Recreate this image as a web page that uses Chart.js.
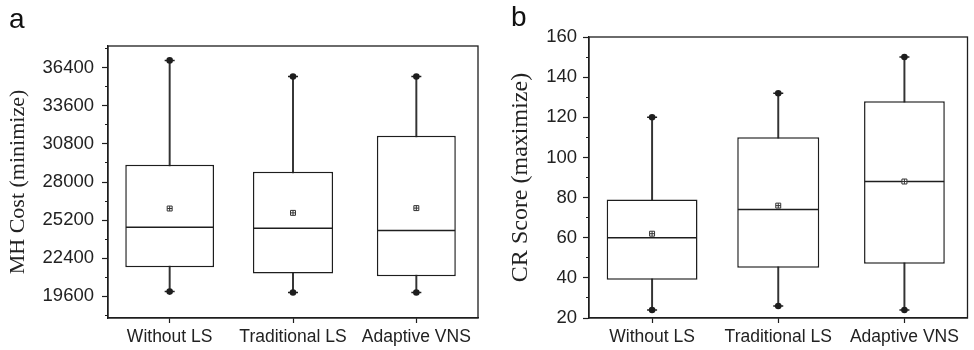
<!DOCTYPE html>
<html>
<head>
<meta charset="utf-8">
<script src="https://cdn.jsdelivr.net/npm/chart.js@4.4.0/dist/chart.umd.min.js"></script>
<style>
  body { margin: 0; background: #fff; }
  #wrap { position: relative; width: 974px; height: 350px; }
  .panel { position: absolute; top: 0; width: 487px; height: 350px; }
  .tag { position: absolute; font: 28px "Liberation Sans", Arial, sans-serif; line-height: 28px; color: #111; }
</style>
</head>
<body>
<div id="wrap">
  <div class="panel" style="left:0"><canvas id="chartA" width="487" height="350"></canvas></div>
  <div class="panel" style="left:487px"><canvas id="chartB" width="487" height="350"></canvas></div>
  <div class="tag" style="left:9px;top:5px">a</div>
  <div class="tag" style="left:511px;top:3px">b</div>
</div>
<script>
var categories = ['Without LS', 'Traditional LS', 'Adaptive VNS'];

// a: MH cost (minimize)
var mhMin    = [19940, 19870, 19870];
var mhQ1     = [21730, 21270, 21070];
var mhMedian = [24680, 24600, 24430];
var mhQ3     = [29260, 28750, 31400];
var mhMax    = [36940, 35760, 35760];
var mhMean   = [26050, 25730, 26080];
var mhTicks  = [19600, 22400, 25200, 28000, 30800, 33600, 36400];

// b: CR score (maximize)
var crMin    = [24, 26, 24];
var crQ1     = [39, 45, 47];
var crMedian = [60, 74, 88];
var crQ3     = [79, 110, 128];
var crMax    = [120, 132, 150];
var crMean   = [62, 76, 88];
var crTicks  = [20, 40, 60, 80, 100, 120, 140, 160];

// box width as share of the category slot
var boxWidths = [0.72, 0.65, 0.64];

var ink = '#1e1e1e';
var sans = '"Liberation Sans", Arial, sans-serif';
var serif = '"Liberation Serif", "Times New Roman", serif';

function halfBox(ctx) {
    var x = ctx.chart.scales.x;
    return x.width / categories.length * boxWidths[ctx.dataIndex] / 2 - 0.7;
}

function boxDatasets(mn, q1, med, q3, mx, mean) {
    var sets = [];
    sets.push({
        type: 'bar',
        data: categories.map(function (c, i) { return [mn[i], mx[i]]; }),
        backgroundColor: '#333',
        barThickness: 1.3,
        grouped: false,
        order: 3
    });
    categories.forEach(function (c, i) {
        sets.push({
            type: 'bar',
            data: categories.map(function (c2, j) { return j === i ? [q1[j], q3[j]] : null; }),
            backgroundColor: '#fff',
            borderColor: ink,
            borderWidth: 1.5,
            borderSkipped: false,
            barPercentage: boxWidths[i],
            categoryPercentage: 1,
            grouped: false,
            order: 2
        });
    });
    var pts = function (data, style, radius, extra) {
        var d = {
            type: 'line',
            data: data,
            showLine: false,
            pointStyle: style,
            pointRadius: radius,
            pointHoverRadius: radius,
            pointBackgroundColor: ink,
            pointBorderColor: ink,
            pointBorderWidth: 1.5,
            order: 1
        };
        return Object.assign(d, extra || {});
    };
    sets.push(pts(med, 'line', halfBox));
    sets.push(pts(mx, 'line', 5, {order: 0}));
    sets.push(pts(mn, 'line', 5, {order: 0}));
    sets.push(pts(mx, 'circle', 3.3, {pointBorderWidth: 0, order: 0}));
    sets.push(pts(mn, 'circle', 3.3, {pointBorderWidth: 0, order: 0}));
    sets.push(pts(mean, 'rect', 3.5, {pointBackgroundColor: '#fff', pointBorderColor: '#333', pointBorderWidth: 1, order: 0}));
    sets.push(pts(mean, 'cross', 2.4, {pointBorderColor: '#333', pointBorderWidth: 1, order: -1}));
    return sets;
}

var framePlugin = {
    id: 'frame',
    afterDatasetsDraw: function (chart) {
        var a = chart.chartArea, c = chart.ctx;
        c.save();
        c.strokeStyle = ink;
        c.lineWidth = 1.3;
        c.strokeRect(a.left, a.top, a.right - a.left, a.bottom - a.top);
        c.restore();
    }
};

function makeChart(id, sets, o) {
    return new Chart(id, {
        type: 'bar',
        data: { labels: categories, datasets: sets },
        plugins: [framePlugin],
        options: {
            responsive: false,
            animation: false,
            layout: { padding: o.padding },
            plugins: { legend: { display: false }, tooltip: { enabled: false } },
            scales: {
                x: {
                    grid: { drawOnChartArea: false, offset: false, tickLength: 5, tickWidth: 1.2, tickColor: ink },
                    border: { color: ink, width: 1.3 },
                    ticks: { font: { family: sans, size: 17.5 }, color: '#222', padding: 4, maxRotation: 0, autoSkip: false },
                    afterFit: function (s) { s.height = 32; }
                },
                y: {
                    min: o.min,
                    max: o.max,
                    afterBuildTicks: function (s) {
                        s.ticks = [];
                        for (var v = o.first; v <= o.max + 1e-9; v += o.minor) s.ticks.push({ value: v });
                    },
                    grid: {
                        drawOnChartArea: false,
                        tickLength: 6,
                        tickWidth: 1.2,
                        tickColor: ink,
                        tickBorderDash: function (ctx) { return o.ticks.indexOf(ctx.tick.value) >= 0 ? [] : [3, 3]; },
                        tickBorderDashOffset: function (ctx) { return o.ticks.indexOf(ctx.tick.value) >= 0 ? 0 : 3; }
                    },
                    border: { color: ink, width: 1.3 },
                    ticks: {
                        autoSkip: false,
                        font: { family: sans, size: 18.5 },
                        color: '#222',
                        padding: o.tickPad,
                        callback: function (v) { return o.ticks.indexOf(v) >= 0 ? String(v) : ''; }
                    },
                    title: {
                        display: true,
                        text: o.title,
                        color: '#222',
                        font: { family: serif, size: o.titleSize },
                        padding: { top: o.titlePad, bottom: 0 }
                    },
                    afterFit: function (s) { s.width = o.yWidth; }
                }
            }
        }
    });
}

makeChart('chartA', boxDatasets(mhMin, mhQ1, mhMedian, mhQ3, mhMax, mhMean), {
    padding: { left: 0, right: 9, top: 46, bottom: 0 },
    min: 18000, max: 38000, first: 18200, minor: 1400, ticks: mhTicks,
    title: 'MH Cost (minimize)', titleSize: 22, titlePad: 5,
    tickPad: 8, yWidth: 108
});

makeChart('chartB', boxDatasets(crMin, crQ1, crMedian, crQ3, crMax, crMean), {
    padding: { left: 0, right: 5, top: 37, bottom: 0 },
    min: 20, max: 160, first: 20, minor: 10, ticks: crTicks,
    title: 'CR Score (maximize)', titleSize: 24, titlePad: 19,
    tickPad: 6, yWidth: 102
});
</script>
</body>
</html>
